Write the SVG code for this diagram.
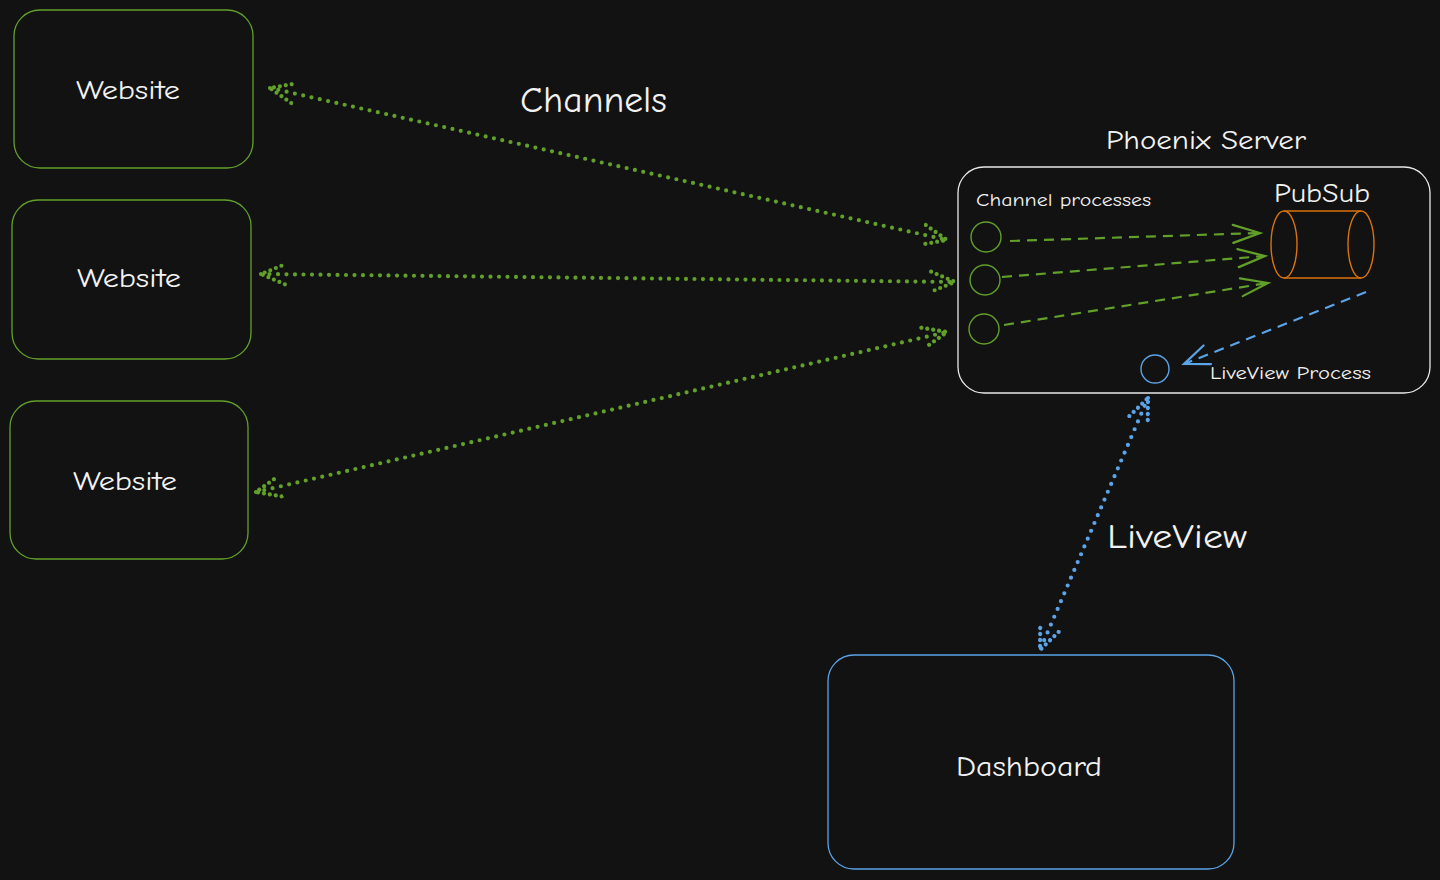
<svg xmlns="http://www.w3.org/2000/svg" width="1440" height="880" viewBox="0 0 1440 880">
<style>
.bg{fill:#121212}
.g{fill:none;stroke:#62a02a;stroke-width:1.4}
.box{fill:none;stroke-width:1.3}
.t{fill:#f2f2f2;font-family:"Comic Neue","Liberation Sans",sans-serif}
.dotg{fill:none;stroke:#62a02a;stroke-width:4.2;stroke-linecap:round;stroke-dasharray:0 8.5}
.dotb{fill:none;stroke:#5ba4e8;stroke-width:4.2;stroke-linecap:round;stroke-dasharray:0 8.5}
.dashg{fill:none;stroke:#62a02a;stroke-width:2.2;stroke-dasharray:10 7}
.dashb{fill:none;stroke:#5ba4e8;stroke-width:2.2;stroke-dasharray:10 7}
</style>
<defs>
<marker id="mg" viewBox="-26 -14 30 28" markerWidth="30" markerHeight="28" refX="0" refY="0" orient="auto-start-reverse" markerUnits="userSpaceOnUse">
<path d="M-24,-10 L0,0 L-24,10" fill="none" stroke="#62a02a" stroke-width="4.2" stroke-linecap="round" stroke-dasharray="0 6"/>
</marker>
<marker id="mb" viewBox="-26 -14 30 28" markerWidth="30" markerHeight="28" refX="0" refY="0" orient="auto-start-reverse" markerUnits="userSpaceOnUse">
<path d="M-24,-10 L0,0 L-24,10" fill="none" stroke="#5ba4e8" stroke-width="4.2" stroke-linecap="round" stroke-dasharray="0 6"/>
</marker>
<marker id="ag" viewBox="-30 -12 34 24" markerWidth="34" markerHeight="24" refX="0" refY="0" orient="auto" markerUnits="userSpaceOnUse">
<path d="M-27,-9 L0,0 L-27,9" fill="none" stroke="#62a02a" stroke-width="2.2" stroke-linecap="round"/>
</marker>
<marker id="ab" viewBox="-30 -12 34 24" markerWidth="34" markerHeight="24" refX="0" refY="0" orient="auto" markerUnits="userSpaceOnUse">
<path d="M-25,-10 L0,0 L-25,10" fill="none" stroke="#5ba4e8" stroke-width="2.2" stroke-linecap="round"/>
</marker>
</defs>
<rect class="bg" x="0" y="0" width="1440" height="880"/>

<g id="website1">
<rect class="box" x="14" y="10" width="239" height="158" rx="26" stroke="#62a02a"/>
<text class="t" x="76" y="99" font-size="27" textLength="104" lengthAdjust="spacingAndGlyphs">Website</text>
</g>
<g id="website2">
<rect class="box" x="12" y="200" width="239" height="159" rx="26" stroke="#62a02a"/>
<text class="t" x="77" y="287" font-size="27" textLength="104" lengthAdjust="spacingAndGlyphs">Website</text>
</g>
<g id="website3">
<rect class="box" x="10" y="401" width="238" height="158" rx="26" stroke="#62a02a"/>
<text class="t" x="73" y="490" font-size="27" textLength="104" lengthAdjust="spacingAndGlyphs">Website</text>
</g>

<g id="labels">
<text class="t" x="520" y="112" font-size="36" textLength="147" lengthAdjust="spacingAndGlyphs">Channels</text>
<text class="t" x="1106" y="149" font-size="27" textLength="200" lengthAdjust="spacingAndGlyphs">Phoenix Server</text>
<text class="t" x="1107" y="548" font-size="34" textLength="140" lengthAdjust="spacingAndGlyphs">LiveView</text>
</g>

<g id="phoenix-server">
<rect class="box" x="958" y="167" width="472" height="226" rx="26" stroke="#e8e8e8"/>
<text class="t" x="976" y="206" font-size="19" textLength="175" lengthAdjust="spacingAndGlyphs">Channel processes</text>
<text class="t" x="1274" y="202" font-size="26" textLength="96" lengthAdjust="spacingAndGlyphs">PubSub</text>
<text class="t" x="1210" y="379" font-size="19" textLength="161" lengthAdjust="spacingAndGlyphs">LiveView Process</text>
</g>

<g id="channel-process-1"><circle cx="986" cy="237" r="15" class="g"/></g>
<g id="channel-process-2"><circle cx="985" cy="280" r="15" class="g"/></g>
<g id="channel-process-3"><circle cx="984" cy="329" r="15" class="g"/></g>

<g id="pubsub">
<path d="M1284,211 L1361,211 M1284,278 L1361,278" fill="none" stroke="#d9730d" stroke-width="1.4"/>
<ellipse cx="1284" cy="244.5" rx="13" ry="33.5" fill="none" stroke="#d9730d" stroke-width="1.4"/>
<ellipse cx="1361" cy="244.5" rx="13" ry="33.5" fill="none" stroke="#d9730d" stroke-width="1.4"/>
</g>

<g id="liveview-process"><circle cx="1155" cy="369" r="14" fill="none" stroke="#5ba4e8" stroke-width="1.4"/></g>

<g id="dashboard">
<rect class="box" x="828" y="655" width="406" height="214" rx="26" stroke="#5ba4e8"/>
<text class="t" x="956" y="776" font-size="29" textLength="146" lengthAdjust="spacingAndGlyphs">Dashboard</text>
</g>

<g id="connectors">
<path class="dotg" d="M270,88 L947,240" marker-start="url(#mg)" marker-end="url(#mg)"/>
<path class="dotg" d="M261,274 L955,282" marker-start="url(#mg)" marker-end="url(#mg)"/>
<path class="dotg" d="M256,492 L947,332" marker-start="url(#mg)" marker-end="url(#mg)"/>
<path class="dotb" d="M1148,398 L1040,650" marker-start="url(#mb)" marker-end="url(#mb)"/>
<path class="dashg" d="M1010,241 L1260,233" marker-end="url(#ag)"/>
<path class="dashg" d="M1002,277 L1265,256" marker-end="url(#ag)"/>
<path class="dashg" d="M1004,325 L1268,283" marker-end="url(#ag)"/>
<path class="dashb" d="M1366,292 L1184,364" marker-end="url(#ab)"/>
</g>
</svg>
